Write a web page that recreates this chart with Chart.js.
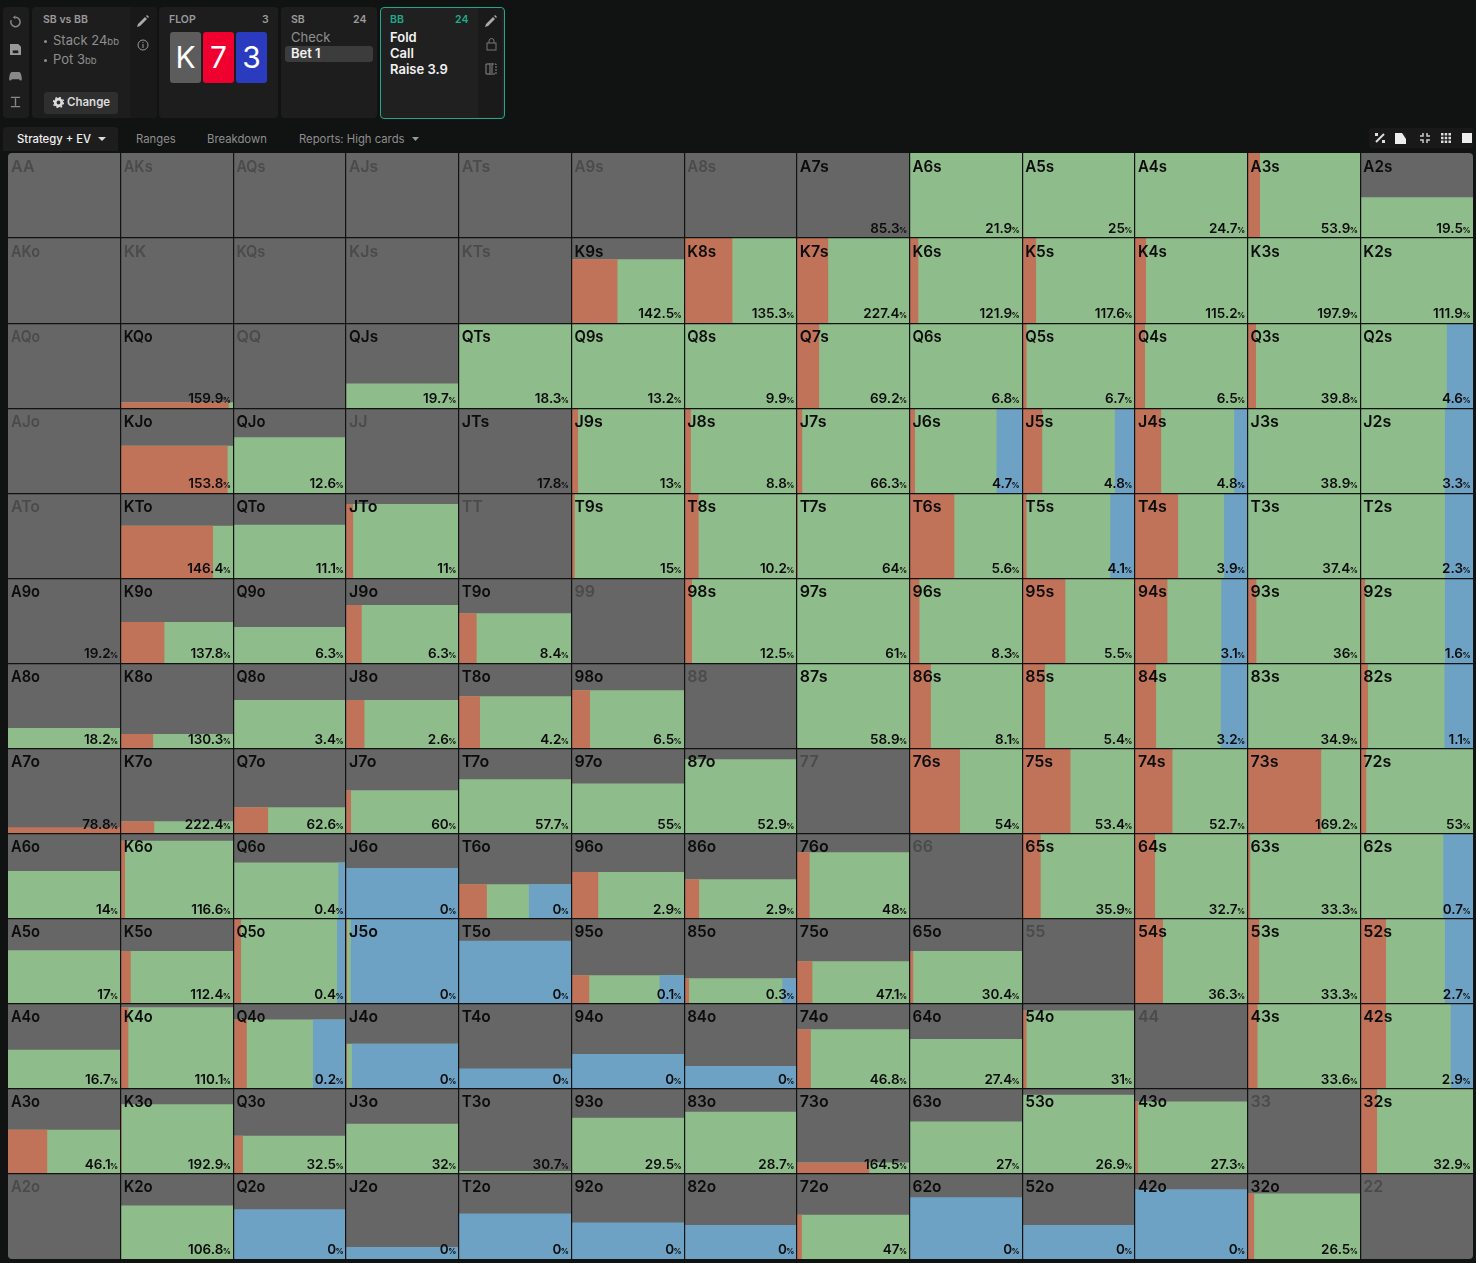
<!DOCTYPE html>
<html>
<head>
<meta charset="utf-8">
<title>BB strategy K73</title>
<script src="https://cdn.jsdelivr.net/npm/chart.js@4"></script>
<style>
html, body { margin: 0; padding: 0; background: #111212; }
body { width: 1476px; height: 1263px; position: relative; overflow: hidden; font-family: Inter, sans-serif; color: #aaa; }
.panel { position: absolute; top: 7px; height: 111px; background: #1d1d1d; border-radius: 4px; }
.abs { position: absolute; white-space: nowrap; }
.head { font-size: 10.5px; font-weight: 600; color: #9a9a9a; }
.row { font-size: 13px; color: #8f8f8f; }
.row small { font-size: 9.5px; }
.dot { position: absolute; left: 44px; width: 3px; height: 3px; border-radius: 2px; background: #8f8f8f; }
.line { font-size: 13px; font-weight: 600; color: #f2f2f2; }
.card { position: absolute; top: 32px; width: 31px; height: 51px; border-radius: 3px; color: #fff; font-size: 30px; line-height: 51px; text-align: center; }
.tab { position: absolute; top: 132px; font-size: 11.3px; color: #8e8e8e; white-space: nowrap; }
svg { position: absolute; }
canvas { position: absolute; left: 8px; top: 153px; border-radius: 4px; }
</style>
</head>
<body>
<div class="panel" style="left:3px;width:26px"></div>
<div class="panel" style="left:32px;width:125px"></div>
<div class="panel" style="left:130px;width:27px;background:#191919"></div>
<div class="panel" style="left:159px;width:119px"></div>
<div class="panel" style="left:281px;width:96px"></div>
<div class="panel" style="left:380px;width:123px;height:110px;background:#202020;border:1px solid #1fa98a"></div>
<div class="abs" style="left:478px;top:8px;width:24px;height:109px;background:#1a1a1a"></div>

<svg style="left:9px;top:15px" width="13" height="14" viewBox="0 0 14 14"><path d="M7 2a5 5 0 1 1-4.6 3" fill="none" stroke="#888" stroke-width="1.6"/><path d="M7 0v4L4 2z" fill="#888"/></svg>
<svg style="left:10px;top:44px" width="11" height="11" viewBox="0 0 12 12"><path d="M0 0h9l3 3v9H0z" fill="#999"/><rect x="3" y="7" width="6" height="3" fill="#1d1d1d"/></svg>
<svg style="left:9px;top:72px" width="13" height="9" viewBox="0 0 14 10"><path d="M3 0h8c2 0 3 5 3 8 0 2-2 2-3 0H3c-1 2-3 2-3 0 0-3 1-8 3-8z" fill="#888"/></svg>
<svg style="left:10px;top:96px" width="11" height="12" viewBox="0 0 12 12"><path d="M1 1h10M1 11h10M6 2v8" stroke="#888" stroke-width="1.5"/></svg>

<div class="abs head" style="left:43px;top:13px">SB vs BB</div>
<div class="dot" style="top:40px"></div>
<div class="dot" style="top:59px"></div>
<div class="abs row" style="left:53px;top:32px">Stack 24<small>bb</small></div>
<div class="abs row" style="left:53px;top:51px">Pot 3<small>bb</small></div>
<div class="abs" style="left:44px;top:92px;width:74px;height:22px;background:#2f2f2f;border-radius:3px"></div>
<svg style="left:53px;top:97px" width="11" height="11" viewBox="0 0 12 12"><circle cx="6" cy="6" r="3.6" fill="none" stroke="#ddd" stroke-width="3"/><circle cx="6" cy="6" r="5.6" fill="none" stroke="#ddd" stroke-width="1.4" stroke-dasharray="2 2.4"/></svg>
<div class="abs" style="left:67px;top:95px;font-size:11.5px;font-weight:600;color:#ddd">Change</div>
<svg style="left:137px;top:15px" width="12" height="12" viewBox="0 0 12 12"><path d="M0 12l1-3 7-7 2 2-7 7zM9 1l1-1 2 2-1 1z" fill="#aaa"/></svg>
<svg style="left:137px;top:39px" width="12" height="12" viewBox="0 0 12 12"><circle cx="6" cy="6" r="5" fill="none" stroke="#999"/><path d="M6 5v4M6 3v1" stroke="#999"/></svg>

<div class="abs head" style="left:169px;top:13px">FLOP</div>
<div class="abs head" style="left:262px;top:13px">3</div>
<div class="card" style="left:170px;background:#5c5c5c">K</div>
<div class="card" style="left:203px;background:#f0002f">7</div>
<div class="card" style="left:236px;background:#2b3bc0">3</div>

<div class="abs head" style="left:291px;top:13px">SB</div>
<div class="abs head" style="left:353px;top:13px">24</div>
<div class="abs row" style="left:291px;top:29px">Check</div>
<div class="abs" style="left:285px;top:46px;width:88px;height:16px;background:#3c3c3c;border-radius:3px"></div>
<div class="abs line" style="left:291px;top:45px">Bet 1</div>

<div class="abs head" style="left:390px;top:13px;color:#1fa98a">BB</div>
<div class="abs head" style="left:455px;top:13px;color:#1fa98a">24</div>
<div class="abs line" style="left:390px;top:29px">Fold</div>
<div class="abs line" style="left:390px;top:45px">Call</div>
<div class="abs line" style="left:390px;top:61px">Raise 3.9</div>
<svg style="left:485px;top:15px" width="12" height="12" viewBox="0 0 12 12"><path d="M0 12l1-3 7-7 2 2-7 7zM9 1l1-1 2 2-1 1z" fill="#aaa"/></svg>
<svg style="left:486px;top:38px" width="11" height="13" viewBox="0 0 11 13"><rect x="1" y="5" width="9" height="7" fill="none" stroke="#777"/><path d="M3 5V3a2.5 2.5 0 0 1 5 0v2" fill="none" stroke="#777"/></svg>
<svg style="left:485px;top:63px" width="12" height="12" viewBox="0 0 12 12"><path d="M5 0v12M7 0v12M5 1H1v10h4" fill="none" stroke="#888"/><path d="M7 1h4v10H7" fill="none" stroke="#888" stroke-dasharray="2 1"/></svg>

<div class="abs" style="left:3px;top:127px;width:115px;height:24px;background:#1d1d1d;border-radius:4px 4px 0 0"></div>
<div class="tab" style="left:17px;color:#f0f0f0;font-weight:500">Strategy + EV</div>
<svg style="left:98px;top:137px" width="8" height="4"><path d="M0 0h8L4 4z" fill="#ddd"/></svg>
<div class="tab" style="left:136px">Ranges</div>
<div class="tab" style="left:207px">Breakdown</div>
<div class="tab" style="left:299px">Reports: High cards</div>
<svg style="left:412px;top:137px" width="7" height="4"><path d="M0 0h7L3.5 4z" fill="#999"/></svg>

<div class="abs" style="left:1369px;top:128px;width:105px;height:20px;background:#191919;border-radius:3px"></div>
<svg style="left:1375px;top:133px" width="10" height="10" viewBox="0 0 10 10"><path d="M1 9l8-8" stroke="#ddd" stroke-width="2"/><rect x="0" y="0" width="3" height="3" fill="#ddd"/><rect x="7" y="7" width="3" height="3" fill="#ddd"/></svg>
<svg style="left:1395px;top:133px" width="11" height="11" viewBox="0 0 11 11"><rect width="11" height="11" fill="#eee"/><path d="M0 0h7l4 6v-6z" fill="#222"/></svg>
<svg style="left:1420px;top:133px" width="10" height="10" viewBox="0 0 10 10"><path d="M3 0v3H0M7 0v3h3M3 10V7H0M7 10V7h3" fill="none" stroke="#ccc" stroke-width="1.5"/></svg>
<svg style="left:1441px;top:133px" width="10" height="10" viewBox="0 0 10 10"><path d="M0 0h2.5v2.5H0zM3.7 0h2.5v2.5H3.7zM7.5 0H10v2.5H7.5zM0 3.7h2.5v2.5H0zM3.7 3.7h2.5v2.5H3.7zM7.5 3.7H10v2.5H7.5zM0 7.5h2.5V10H0zM3.7 7.5h2.5V10H3.7zM7.5 7.5H10V10H7.5z" fill="#ddd"/></svg>
<svg style="left:1462px;top:133px" width="10" height="10"><rect width="10" height="10" fill="#eee"/></svg>

<canvas id="grid" width="1465" height="1106"></canvas>

<script>
const ranks = ['A', 'K', 'Q', 'J', 'T', '9', '8', '7', '6', '5', '4', '3', '2'];

// how much of each cell is filled (bar height, %)
const weights = [
    [0, 0, 0, 0, 0, 0, 0, 0, 100, 100, 100, 100, 48],
    [0, 0, 0, 0, 0, 75, 100, 100, 100, 100, 100, 100, 100],
    [0, 7, 0, 29, 100, 100, 100, 100, 100, 100, 100, 100, 100],
    [0, 56, 66, 0, 0, 100, 100, 100, 100, 100, 100, 100, 100],
    [0, 62, 63, 87.5, 0, 100, 100, 100, 100, 100, 100, 100, 100],
    [0, 48.6, 43, 68.6, 59, 0, 100, 100, 100, 100, 100, 100, 100],
    [24, 17, 57, 57, 61.5, 68.6, 0, 100, 100, 100, 100, 100, 100],
    [7.5, 14.5, 31, 51, 64, 59, 87.5, 0, 100, 100, 100, 100, 100],
    [56, 91.5, 66, 59.5, 40.5, 55, 46.5, 78, 0, 100, 100, 100, 100],
    [63, 62, 100, 100, 74, 33.5, 30, 50, 62, 0, 100, 100, 100],
    [46, 96, 81.5, 53, 24, 41, 27, 70, 58.5, 92, 0, 100, 100],
    [52, 82, 45, 59, 3.5, 66, 73, 13.5, 61.5, 93, 85, 0, 100],
    [0, 63, 58.5, 14, 53.5, 43, 40, 52, 72.5, 40, 82, 77, 0],
];

// raise share of each cell (%)
const raises = [
    [0, 0, 0, 0, 0, 0, 0, 0, 0, 0, 0, 11, 0],
    [0, 0, 0, 0, 0, 41, 43, 28, 8, 12.5, 10, 0.5, 0],
    [0, 96, 0, 0, 0, 0, 0, 20, 0, 4, 9, 7.5, 0],
    [0, 95, 0, 0, 0, 6, 6, 5, 5, 18, 23.5, 0, 0],
    [0, 82, 0, 6.5, 0, 3, 13, 1, 40, 4, 38.5, 0, 0],
    [0, 39, 0, 14, 16, 0, 7, 0, 9, 38.5, 29, 8, 4.5],
    [0, 29, 0, 16.5, 19, 16.5, 0, 0, 19, 20.5, 19, 0, 7],
    [100, 30, 31, 4.5, 0, 0, 0, 0, 45, 43, 33.5, 65.5, 5.5],
    [0, 4, 0, 0, 25, 24, 13.5, 11.5, 0, 16.5, 18, 2.5, 0],
    [0, 9, 7, 1, 0, 16, 4.5, 14, 3.5, 0, 25, 10.5, 23],
    [0, 7, 12, 1, 0, 0, 0, 12.5, 0, 4, 0, 9, 23],
    [35, 1, 8.5, 0, 0, 0, 0, 64.5, 0, 0, 3, 0, 15],
    [0, 0, 0, 0, 0, 0, 0, 4.5, 0, 0, 0, 6, 0],
];

// fold share of each cell (%), call is what is left
const folds = [
    [0, 0, 0, 0, 0, 0, 0, 0, 0, 0, 0, 0, 0],
    [0, 0, 0, 0, 0, 0, 0, 0, 0, 0, 0, 0, 0],
    [0, 0, 0, 0, 0, 0, 0, 0, 0, 0, 0, 0, 23.5],
    [0, 0, 0, 0, 0, 0, 0, 0, 23, 18, 12, 0, 25],
    [0, 0, 0, 0, 0, 0, 0, 0, 0, 22, 21, 0, 25],
    [0, 0, 0, 0, 0, 0, 0, 0, 0, 0, 23.5, 0, 25],
    [0, 0, 0, 0, 0, 0, 0, 0, 0, 0, 24, 0, 25.5],
    [0, 0, 0, 0, 0, 0, 0, 0, 0, 0, 0, 0, 0],
    [0, 0, 7, 100, 38, 0, 0, 0, 0, 0, 0, 0, 26.5],
    [0, 0, 8, 96, 100, 22, 13, 0, 0, 0, 0, 0, 25],
    [0, 0, 29.5, 95, 100, 100, 100, 0, 0, 0, 0, 0, 20],
    [0, 0, 0, 0, 0, 0, 0, 0, 0, 0, 0, 0, 0],
    [0, 0, 100, 100, 100, 100, 100, 0, 100, 100, 100, 0, 0],
];

// printed EV, null = hand not in range (dim label, no number)
const evs = [
    [null, null, null, null, null, null, null, 85.3, 21.9, 25, 24.7, 53.9, 19.5],
    [null, null, null, null, null, 142.5, 135.3, 227.4, 121.9, 117.6, 115.2, 197.9, 111.9],
    [null, 159.9, null, 19.7, 18.3, 13.2, 9.9, 69.2, 6.8, 6.7, 6.5, 39.8, 4.6],
    [null, 153.8, 12.6, null, 17.8, 13, 8.8, 66.3, 4.7, 4.8, 4.8, 38.9, 3.3],
    [null, 146.4, 11.1, 11, null, 15, 10.2, 64, 5.6, 4.1, 3.9, 37.4, 2.3],
    [19.2, 137.8, 6.3, 6.3, 8.4, null, 12.5, 61, 8.3, 5.5, 3.1, 36, 1.6],
    [18.2, 130.3, 3.4, 2.6, 4.2, 6.5, null, 58.9, 8.1, 5.4, 3.2, 34.9, 1.1],
    [78.8, 222.4, 62.6, 60, 57.7, 55, 52.9, null, 54, 53.4, 52.7, 169.2, 53],
    [14, 116.6, 0.4, 0, 0, 2.9, 2.9, 48, null, 35.9, 32.7, 33.3, 0.7],
    [17, 112.4, 0.4, 0, 0, 0.1, 0.3, 47.1, 30.4, null, 36.3, 33.3, 2.7],
    [16.7, 110.1, 0.2, 0, 0, 0, 0, 46.8, 27.4, 31, null, 33.6, 2.9],
    [46.1, 192.9, 32.5, 32, 30.7, 29.5, 28.7, 164.5, 27, 26.9, 27.3, null, 32.9],
    [null, 106.8, 0, 0, 0, 0, 0, 47, 0, 0, 0, 26.5, null],
];

const GREY = '#666666', RAISE = '#c1735a', CALL = '#8fbc8b', FOLD = '#6da2c4';

function handName(r, c) {
    if (r === c) return ranks[r] + ranks[c];
    return r < c ? ranks[r] + ranks[c] + 's' : ranks[c] + ranks[r] + 'o';
}

// a flat line with fill down to the bottom of its row gives one rectangle
function segment(r, c, from, to, color) {
    const top = r + 1 - weights[r][c] / 100;
    return {
        data: [{ x: c + from / 100, y: top }, { x: c + to / 100, y: top }],
        fill: { value: r + 1 },
        backgroundColor: color,
        borderWidth: 0,
        pointRadius: 0,
    };
}

// line datasets paint last-to-first: raise and fold sit on a full-width call
// segment so no seam shows, and the grey board goes at the very end
const datasets = [];

ranks.forEach((_, r) => {
    ranks.forEach((_, c) => {
        if (!weights[r][c]) return;
        const ra = raises[r][c], fo = folds[r][c];
        if (ra > 0) datasets.push(segment(r, c, 0, ra, RAISE));
        if (fo > 0) datasets.push(segment(r, c, 100 - fo, 100, FOLD));
        if (ra + fo < 100) datasets.push(segment(r, c, 0, 100, CALL));
    });
});

datasets.push({
    data: [{ x: 0, y: 0 }, { x: 13, y: 0 }],
    fill: { value: 13 },
    backgroundColor: GREY,
    borderWidth: 0,
    pointRadius: 0,
});

// hand names and EV numbers
const cellText = {
    id: 'cellText',
    afterDraw(chart) {
        const { ctx, scales: { x, y } } = chart;
        ctx.save();
        ctx.textBaseline = 'alphabetic';
        ranks.forEach((_, r) => {
            ranks.forEach((_, c) => {
                const left = x.getPixelForValue(c), right = x.getPixelForValue(c + 1);
                const top = y.getPixelForValue(r), bottom = y.getPixelForValue(r + 1);
                const ev = evs[r][c];

                ctx.textAlign = 'left';
                ctx.font = '600 16px Inter';
                ctx.fillStyle = ev === null ? '#4b4b4b' : '#0c0c0c';
                ctx.fillText(handName(r, c), left + 3, top + 18.5, 29);

                if (ev === null) return;
                ctx.textAlign = 'right';
                ctx.font = '700 8px Inter';
                ctx.fillStyle = '#0c0c0c';
                ctx.fillText('%', right - 2.5, bottom - 5);
                ctx.font = '600 13.5px Inter';
                ctx.fillText(String(ev), right - 10, bottom - 5);
            });
        });
        ctx.restore();
    },
};

const edgeless = (ctx) => (ctx.tick && ctx.tick.value % 13 === 0 ? 'transparent' : '#111212');

new Chart(document.getElementById('grid'), {
    type: 'line',
    data: { datasets },
    plugins: [cellText],
    options: {
        responsive: false,
        animation: false,
        events: [],
        layout: { padding: 0 },
        plugins: { legend: { display: false }, tooltip: { enabled: false } },
        scales: {
            x: {
                type: 'linear', min: 0, max: 13,
                ticks: { display: false, stepSize: 1 },
                border: { display: false },
                grid: { color: edgeless, lineWidth: 1.2, z: 1, drawTicks: false },
            },
            y: {
                type: 'linear', min: 0, max: 13, reverse: true,
                ticks: { display: false, stepSize: 1 },
                border: { display: false },
                grid: { color: edgeless, lineWidth: 1.2, z: 1, drawTicks: false },
            },
        },
    },
});
</script>
</body>
</html>
